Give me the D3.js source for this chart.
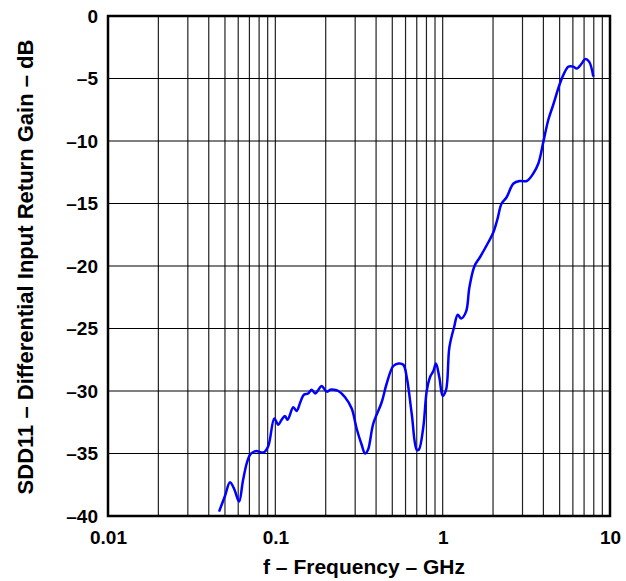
<!DOCTYPE html>
<html>
<head>
<meta charset="utf-8">
<script src="https://cdn.jsdelivr.net/npm/d3@7"></script>
<style>
  body { margin: 0; background: #fff; }
  text { font-family: "Liberation Sans", Arial, sans-serif; font-weight: bold; fill: #000; }
</style>
</head>
<body>
<svg width="626" height="581"></svg>
<script>
// ~~~~~~ DATA ~~~~~~
// frequency in GHz
var freq = [0.0461, 0.050, 0.0536, 0.057, 0.0607, 0.064, 0.0674, 0.0706, 0.0735, 0.0773, 0.0815, 0.0855, 0.0908,
            0.0986, 0.1041, 0.109, 0.1142, 0.1183, 0.128, 0.134, 0.141, 0.148, 0.157, 0.165, 0.173, 0.181, 0.189,
            0.203, 0.213, 0.224, 0.238, 0.261, 0.286, 0.306, 0.328, 0.344, 0.358, 0.385, 0.432, 0.463, 0.507,
            0.545, 0.582, 0.610, 0.653, 0.700, 0.720, 0.766, 0.802, 0.840, 0.880, 0.912, 0.955, 1.0, 1.048,
            1.097, 1.17, 1.23, 1.29, 1.38, 1.445, 1.55, 1.67, 1.875, 2.01, 2.12, 2.25, 2.41, 2.65, 2.90, 3.18,
            3.48, 3.73, 4.0, 4.28, 4.58, 5.02, 5.38, 5.64, 6.04, 6.32, 6.78, 7.1, 7.5, 7.95];
// SDD11 in dB
var sdd11 = [-39.65, -38.4, -37.3, -37.9, -38.85, -37.2, -35.8, -35.1, -34.9, -34.8, -34.9, -34.9, -34.4,
             -32.2, -32.7, -32.3, -32.0, -32.3, -31.3, -31.6, -30.9, -30.3, -30.2, -29.9, -30.2, -29.9, -29.6,
             -30.05, -29.9, -29.9, -30.0, -30.5, -31.4, -33.0, -34.3, -35.0, -34.7, -32.6, -30.9, -29.4, -28.0,
             -27.8, -27.9, -28.9, -31.8, -34.7, -34.7, -32.9, -30.05, -28.9, -28.4, -27.8, -28.9, -30.4, -29.9,
             -26.5, -24.9, -23.9, -24.2, -23.65, -21.7, -20.0, -19.3, -18.1, -17.3, -16.3, -15.0, -14.5, -13.4,
             -13.2, -13.2, -12.6, -11.8, -10.05, -8.3, -7.1, -5.4, -4.45, -4.05, -4.05, -4.2, -3.8, -3.45, -3.65, -4.85];

var xTicks = [0.01, 0.1, 1, 10];
var xTickLabels = ["0.01", "0.1", "1", "10"];
var yTicks = [0, -5, -10, -15, -20, -25, -30, -35, -40];

var points = freq.map(function(f, i) { return [f, sdd11[i]]; });

// ~~~~~~ SVG ~~~~~~
var svg = d3.select("svg"),
    margin = {top: 16, right: 16, bottom: 65, left: 108},
    width = +svg.attr("width") - margin.left - margin.right,
    height = +svg.attr("height") - margin.top - margin.bottom;

var g = svg.append("g")
    .attr("transform", "translate(" + margin.left + "," + margin.top + ")");

// ~~~~~~ SCALES ~~~~~~
var x = d3.scaleLog().domain([0.01, 10]).range([0, width]);
var y = d3.scaleLinear().domain([-40, 0]).range([height, 0]);

// ~~~~~~ GRID ~~~~~~
var minor = [];
[0.01, 0.1, 1].forEach(function(d) {
  for (var k = 2; k <= 9; k++) minor.push(d * k);
});
minor = minor.concat([0.1, 1]);

g.selectAll(".vgrid")
  .data(minor)
  .enter().append("line")
  .attr("class", "vgrid")
  .attr("x1", function(d) { return x(d); })
  .attr("x2", function(d) { return x(d); })
  .attr("y1", 0)
  .attr("y2", height)
  .attr("stroke", "#222")
  .attr("stroke-width", 1.2);

g.selectAll(".hgrid")
  .data(yTicks)
  .enter().append("line")
  .attr("class", "hgrid")
  .attr("x1", 0)
  .attr("x2", width)
  .attr("y1", function(d) { return y(d); })
  .attr("y2", function(d) { return y(d); })
  .attr("stroke", "#000")
  .attr("stroke-width", 1.2);

// ~~~~~~ CURVE ~~~~~~
var line = d3.line()
  .x(function(d) { return x(d[0]); })
  .y(function(d) { return y(d[1]); })
  .curve(d3.curveCatmullRom.alpha(0.5));

g.append("path")
  .datum(points)
  .attr("fill", "none")
  .attr("stroke", "#0000ff")
  .attr("stroke-width", 2.5)
  .attr("stroke-linejoin", "round")
  .attr("d", line);

// frame
g.append("rect")
  .attr("x", 0).attr("y", 0)
  .attr("width", width).attr("height", height)
  .attr("fill", "none")
  .attr("stroke", "#000")
  .attr("stroke-width", 2.5);

// ~~~~~~ AXES ~~~~~~
var xAxis = g.append("g")
  .attr("transform", "translate(0," + height + ")")
  .call(d3.axisBottom(x).tickValues(xTicks).tickSize(0).tickPadding(15)
        .tickFormat(function(d, i) { return xTickLabels[i]; }));
xAxis.select(".domain").remove();
xAxis.selectAll("text").style("font-size", "19px").style("font-family", null);

var yAxis = g.append("g")
  .call(d3.axisLeft(y).tickValues(yTicks).tickSize(0).tickPadding(10)
        .tickFormat(function(d) { return d === 0 ? "0" : "\u2013" + Math.abs(d); }));
yAxis.select(".domain").remove();
yAxis.selectAll("text").style("font-size", "19px").style("font-family", null);

// axis titles
svg.append("text")
  .attr("x", margin.left + width / 2 + 5)
  .attr("y", 574)
  .attr("text-anchor", "middle")
  .style("font-size", "21px")
  .text("f \u2013 Frequency \u2013 GHz");

svg.append("text")
  .attr("transform", "translate(33," + (margin.top + height / 2 + 1) + ") rotate(-90)")
  .attr("text-anchor", "middle")
  .style("font-size", "22px")
  .text("SDD11 \u2013 Differential Input Return Gain \u2013 dB");
</script>
</body>
</html>
